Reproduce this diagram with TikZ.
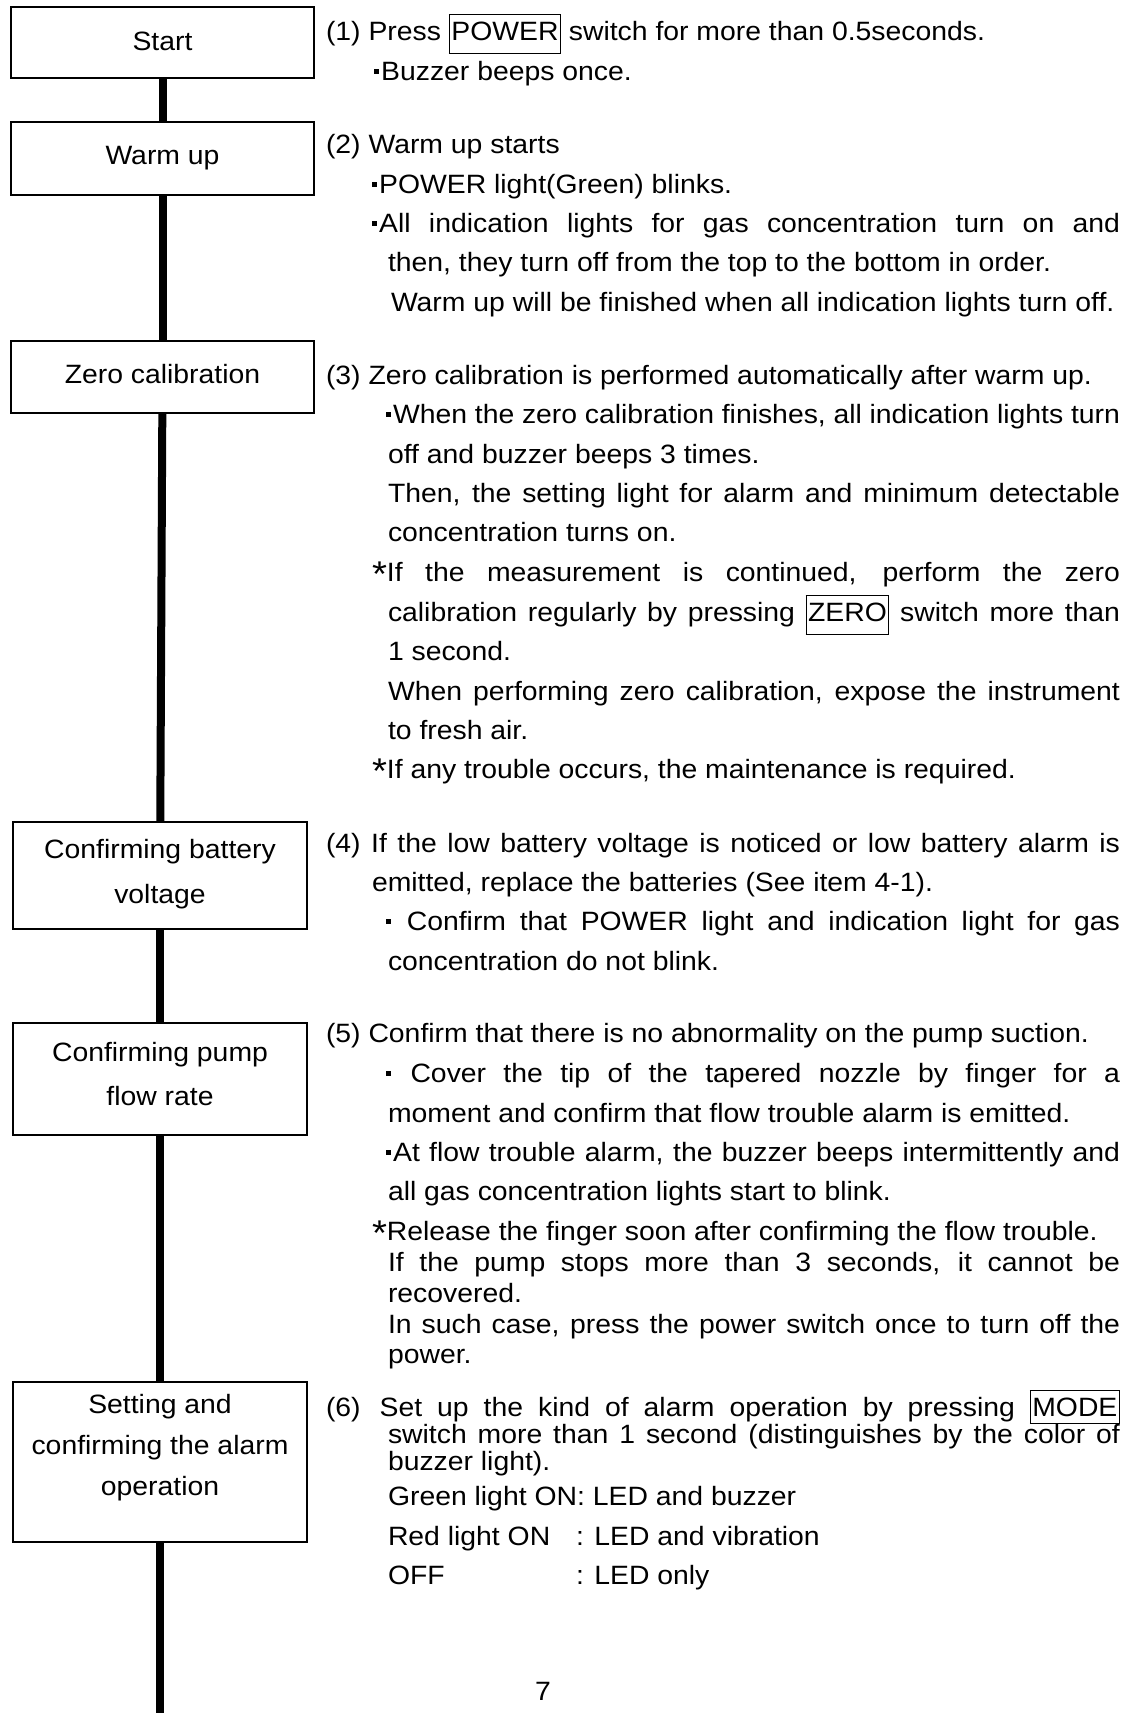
\documentclass[tikz,border=0pt]{standalone}
\usepackage{fontspec}
\usepackage{graphicx}
\setmainfont{Liberation Sans}[FakeStretch=1.07]
\newcommand{\bul}{\rule[0.23em]{0.19em}{0.19em}\hspace{0.08em}}
\newcommand{\stq}{\raisebox{-0.2em}{\scalebox{1.35}{*}}}
\newcommand{\kbd}[3]{{\setlength{\fboxsep}{0pt}\setlength{\fboxrule}{1pt}\fbox{\kern1.5pt\rule[-#2em]{0pt}{#3em}#1\kern1.5pt}}}
\newcommand{\bt}[2]{\raisebox{#1pt}[\height][\depth]{\begin{tabular}{@{}c@{}}#2\end{tabular}}}
\newcommand{\TLine}[4]{\node[txt] (#1) at (#2,#3) {#4};}
\newcommand{\JLine}[4]{\node[txt] (#1) at (#2,#3) {\makebox[\dimexpr1120pt-#2pt\relax][s]{#4}};}
\begin{document}
\begin{tikzpicture}[x=1pt,y=-1pt,
  every node/.style={font=\fontsize{26.5}{41}\selectfont, inner sep=0pt, outer sep=0pt},
  box/.style={draw, line width=1.4pt, align=center},
  txt/.style={anchor=base west},
  link/.style={line width=8pt}]
\fill[white] (0,0) rectangle (1129,1713);
\useasboundingbox (0,0) rectangle (1129,1713);

% flow boxes
\node[box, minimum width=303pt, minimum height=71pt] (start) at (162.5,42.5) {\bt{0.5}{Start}};
\node[box, minimum width=303pt, minimum height=73pt] (warm) at (162.5,158.5) {\bt{2.5}{Warm up}};
\node[box, minimum width=303pt, minimum height=72pt] (zero) at (162.5,377) {\bt{2}{Zero calibration}};
\node[box, minimum width=294pt, minimum height=107pt] (batt) at (160,875.5) {\bt{3}{Confirming battery\\[4pt] voltage}};
\node[box, minimum width=294pt, minimum height=112pt] (pump) at (160,1079) {\bt{4}{Confirming pump\\[3pt] flow rate}};
\node[box, minimum width=294pt, minimum height=160pt] (alarm) at (160,1462) {\bt{16}{Setting and\\ confirming the alarm\\ operation}};
\coordinate (bottom) at (160,1713);

\draw[link] (start) -- (warm);
\draw[link] (warm) -- (zero);
\draw[link] (zero) -- (batt);
\draw[link] (batt) -- (pump);
\draw[link] (pump) -- (alarm);
\draw[link] (alarm) -- (bottom);

% (1)
\TLine{t1a}{326}{40}{(1) Press \kbd{POWER}{0.5}{1.45} switch for more than 0.5seconds.}
\TLine{t1b}{374}{80}{\bul Buzzer beeps once.}
% (2)
\TLine{t2a}{326}{153}{(2) Warm up starts}
\TLine{t2b}{372}{193}{\bul POWER light(Green) blinks.}
\JLine{t2c}{372}{232}{\bul All indication lights for gas concentration turn on and}
\TLine{t2d}{388}{271}{then, they turn off from the top to the bottom in order.}
\TLine{t2e}{391}{311}{Warm up will be finished when all indication lights turn off.}
% (3)
\TLine{t3a}{326}{384}{(3) Zero calibration is performed automatically after warm up.}
\JLine{t3b}{386}{423}{\bul When the zero calibration finishes, all indication lights turn}
\TLine{t3c}{388}{463}{off and buzzer beeps 3 times.}
\JLine{t3d}{388}{502}{Then, the setting light for alarm and minimum detectable}
\TLine{t3e}{388}{541}{concentration turns on.}
\JLine{t3f}{372}{581}{\stq If the measurement is continued, perform the zero}
\JLine{t3g}{388}{621}{calibration regularly by pressing \kbd{ZERO}{0.5}{1.45} switch more than}
\TLine{t3h}{388}{660}{1 second.}
\JLine{t3i}{388}{700}{When performing zero calibration, expose the instrument}
\TLine{t3j}{388}{739}{to fresh air.}
\TLine{t3k}{372}{778}{\stq If any trouble occurs, the maintenance is required.}
% (4)
\JLine{t4a}{326}{852}{(4) If the low battery voltage is noticed or low battery alarm is}
\TLine{t4b}{372}{891}{emitted, replace the batteries (See item 4-1).}
\JLine{t4c}{386}{930}{\bul\ Confirm that POWER light and indication light for gas}
\TLine{t4d}{388}{970}{concentration do not blink.}
% (5)
\TLine{t5a}{326}{1042}{(5) Confirm that there is no abnormality on the pump suction.}
\JLine{t5b}{386}{1082}{\bul\ Cover the tip of the tapered nozzle by finger for a}
\TLine{t5c}{388}{1122}{moment and confirm that flow trouble alarm is emitted.}
\JLine{t5d}{386}{1161}{\bul At flow trouble alarm, the buzzer beeps intermittently and}
\TLine{t5e}{388}{1200}{all gas concentration lights start to blink.}
\TLine{t5f}{372}{1240}{\stq Release the finger soon after confirming the flow trouble.}
\JLine{t5g}{388}{1271}{If the pump stops more than 3 seconds, it cannot be}
\TLine{t5h}{388}{1302}{recovered.}
\JLine{t5i}{388}{1333}{In such case, press the power switch once to turn off the}
\TLine{t5j}{388}{1363}{power.}
% (6)
\JLine{t6a}{326}{1416}{(6)\kern4pt\ Set up the kind of alarm operation by pressing \kbd{MODE}{0.27}{1.2}}
\JLine{t6b}{388}{1443}{switch more than 1 second (distinguishes by the color of}
\TLine{t6c}{388}{1470}{buzzer light).}
\TLine{t6d}{388}{1505}{Green light ON: LED and buzzer}
\TLine{t6e}{388}{1545}{Red light ON}
\TLine{t6ev}{576}{1545}{: LED and vibration}
\TLine{t6f}{388}{1584}{OFF}
\TLine{t6fv}{576}{1584}{: LED only}
% page number
\node[anchor=base] (pgno) at (543,1700) {7};
\end{tikzpicture}
\end{document}
